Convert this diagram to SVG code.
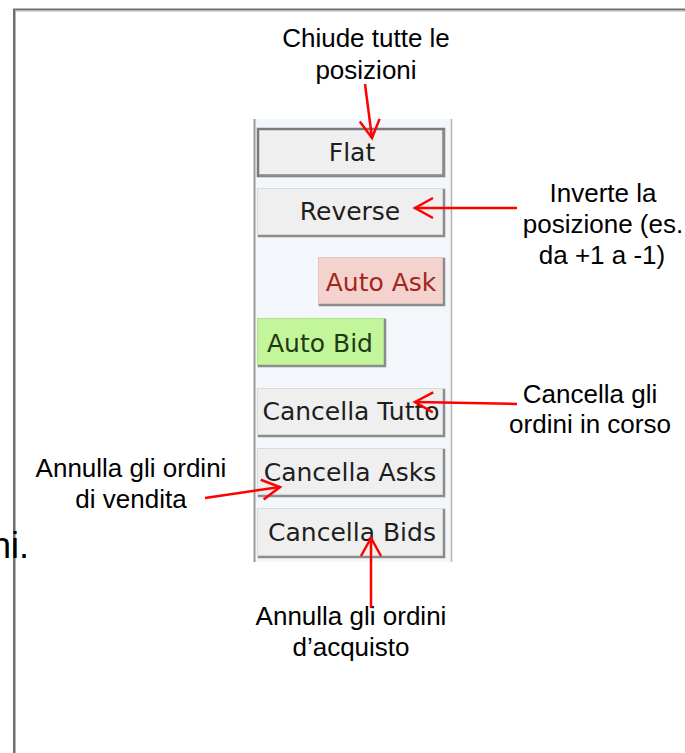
<svg xmlns="http://www.w3.org/2000/svg" width="685" height="753" viewBox="0 0 685 753">
<style>
.ann{font-family:"Liberation Sans",Arial,sans-serif;font-size:26px;fill:#000;text-anchor:middle}
.btxt{font-family:"DejaVu Sans",Verdana,sans-serif;font-size:25px;fill:#1e1e1e;text-anchor:middle}
.bf{fill:#efefef;stroke:#d9d9d9;stroke-width:1}
.sh{fill:none;stroke:#8c8c8c;stroke-width:2.5}
.arr{fill:none;stroke:#ff0000;stroke-width:2.5;marker-end:url(#ah)}
</style>
<defs>
<marker id="ah" markerUnits="userSpaceOnUse" viewBox="-22 -12 26 24" refX="0" refY="0" markerWidth="26" markerHeight="24" orient="auto">
<path d="M-18,-10 L0,0 L-18,10" fill="none" stroke="#ff0000" stroke-width="2.5"/>
</marker>
</defs>
<rect x="0" y="0" width="685" height="753" fill="#ffffff"/>
<g id="frame">
<path d="M14,753 V9.5 H685" fill="none" stroke="#6e6e6e" stroke-width="2"/>
<path d="M15.5,753 V11 H685" fill="none" stroke="#b4b4b4" stroke-width="1"/>
</g>
<text x="-9" y="558" font-family="Liberation Sans,Arial,sans-serif" font-size="36" fill="#000">ni.</text>
<g id="panel">
<rect x="254" y="119" width="198" height="443" fill="#f3f6fb"/>
<line x1="254.5" y1="119" x2="254.5" y2="562" stroke="#9a9a9a" stroke-width="2"/>
<line x1="451.5" y1="119" x2="451.5" y2="562" stroke="#b4b4b4" stroke-width="1.5"/>
</g>
<g id="btn-flat">
<rect x="258" y="129" width="186" height="47" fill="#efefef" stroke="#7a7a7a" stroke-width="2.5"/>
<path class="sh" d="M259,175.5 H443.5 V130" stroke="#5a5a5a"/>
<text class="btxt" x="352" y="161">Flat</text>
</g>
<g id="btn-reverse">
<rect class="bf" x="257.5" y="188.5" width="187" height="48"/>
<path class="sh" d="M258,236 H444 V189"/>
<text class="btxt" x="350" y="220">Reverse</text>
</g>
<g id="btn-autoask">
<rect x="318.5" y="257.5" width="126" height="48" fill="#f4d3cf" stroke="#e6c4c0" stroke-width="1"/>
<path class="sh" d="M319,305 H444 V258"/>
<text class="btxt" x="381" y="291" style="fill:#a3261c">Auto Ask</text>
</g>
<g id="btn-autobid">
<rect x="257.5" y="318.5" width="128" height="48" fill="#c3f59b" stroke="#b0e088" stroke-width="1"/>
<path class="sh" d="M258,366 H385 V319"/>
<text class="btxt" x="320" y="352" style="fill:#1f3a12">Auto Bid</text>
</g>
<g id="btn-cancellatutto">
<rect class="bf" x="257.5" y="388.5" width="187" height="48"/>
<path class="sh" d="M258,436 H444 V389"/>
<text class="btxt" x="351" y="420">Cancella Tutto</text>
</g>
<g id="btn-cancellaasks">
<rect class="bf" x="257.5" y="448.5" width="187" height="48"/>
<path class="sh" d="M258,496 H444 V449"/>
<text class="btxt" x="350" y="481">Cancella Asks</text>
</g>
<g id="btn-cancellabids">
<rect class="bf" x="257.5" y="508.5" width="187" height="49"/>
<path class="sh" d="M258,557 H444 V509"/>
<text class="btxt" x="352" y="541">Cancella Bids</text>
</g>
<g id="note-flat">
<text class="ann" x="366" y="47">Chiude tutte le</text>
<text class="ann" x="366" y="79">posizioni</text>
</g>
<g id="note-reverse">
<text class="ann" x="603" y="202">Inverte la</text>
<text class="ann" x="603" y="233">posizione (es.</text>
<text class="ann" x="602" y="264">da +1 a -1)</text>
</g>
<g id="note-tutto">
<text class="ann" x="590" y="403">Cancella gli</text>
<text class="ann" x="590" y="433">ordini in corso</text>
</g>
<g id="note-asks">
<text class="ann" x="131" y="477">Annulla gli ordini</text>
<text class="ann" x="131" y="508">di vendita</text>
</g>
<g id="note-bids">
<text class="ann" x="351" y="625">Annulla gli ordini</text>
<text class="ann" x="351" y="656">d’acquisto</text>
</g>
<g id="connectors">
<path class="arr" d="M365,84 L372,138"/>
<path class="arr" d="M517,208 L415,208"/>
<path class="arr" d="M517,404 L415,402"/>
<path class="arr" d="M205,498 L280,487"/>
<path class="arr" d="M371,608 L371,538"/>
</g>
</svg>
